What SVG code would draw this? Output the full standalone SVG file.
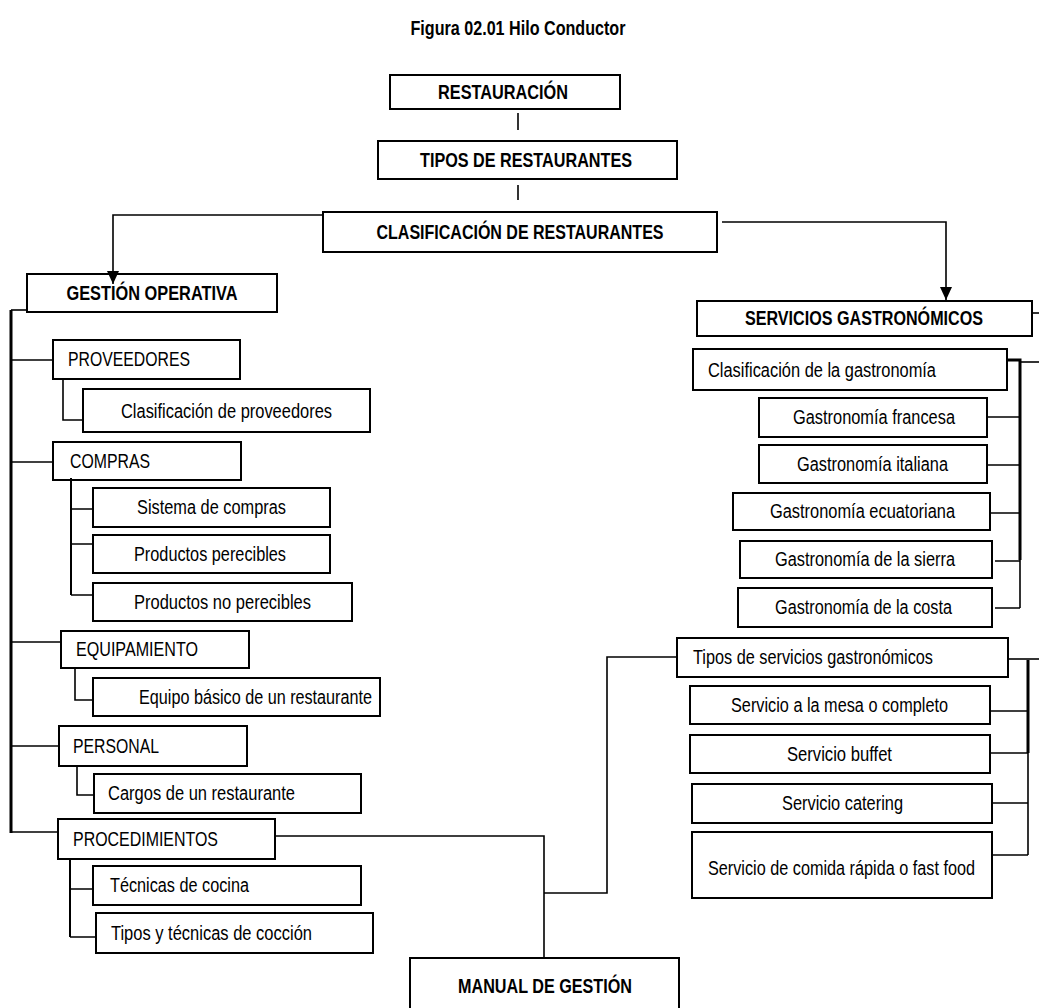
<svg xmlns="http://www.w3.org/2000/svg" width="1039" height="1008" viewBox="0 0 1039 1008">
<style>
text{font-family:"Liberation Sans",Arial,sans-serif;font-size:19.5px;fill:#000}
.b{font-weight:bold}
.c{text-anchor:middle}
rect{fill:#fff;stroke:#000;stroke-width:2}
.ln{fill:none;stroke:#000;stroke-width:1.6}
.tk{fill:none;stroke:#000;stroke-width:3}
</style>
<defs>
<marker id="arr" markerUnits="userSpaceOnUse" markerWidth="12" markerHeight="13" refX="6" refY="13" orient="0">
<path d="M0,0 L12,0 L6,13 Z" fill="#000"/>
</marker>
</defs>
<rect width="1039" height="1008" style="fill:#fff;stroke:none"/>
<text class="b c" x="518" y="35" textLength="215" lengthAdjust="spacingAndGlyphs">Figura 02.01 Hilo Conductor</text>

<g id="n-restauracion"><rect x="390" y="75" width="230" height="34"/><text class="b c" x="503" y="99" textLength="130" lengthAdjust="spacingAndGlyphs">RESTAURACIÓN</text></g>
<g id="n-tipos"><rect x="378" y="141" width="299" height="38"/><text class="b c" x="526" y="167" textLength="212" lengthAdjust="spacingAndGlyphs">TIPOS DE RESTAURANTES</text></g>
<g id="n-clasificacion"><rect x="323" y="212" width="394" height="40"/><text class="b c" x="520" y="239" textLength="287" lengthAdjust="spacingAndGlyphs">CLASIFICACIÓN DE RESTAURANTES</text></g>

<g id="n-gestion"><rect x="27" y="274" width="250" height="38"/><text class="b c" x="152" y="300" textLength="171" lengthAdjust="spacingAndGlyphs">GESTIÓN OPERATIVA</text></g>
<g id="n-proveedores"><rect x="53" y="340" width="187" height="39"/><text x="68" y="366" textLength="122" lengthAdjust="spacingAndGlyphs">PROVEEDORES</text></g>
<g id="n-clasprov"><rect x="83" y="389" width="287" height="43"/><text x="121" y="418" textLength="211" lengthAdjust="spacingAndGlyphs">Clasificación de proveedores</text></g>
<g id="n-compras"><rect x="53" y="442" width="188" height="38"/><text x="70" y="468" textLength="80" lengthAdjust="spacingAndGlyphs">COMPRAS</text></g>
<g id="n-sistema"><rect x="93" y="488" width="237" height="39"/><text x="137" y="514" textLength="149" lengthAdjust="spacingAndGlyphs">Sistema de compras</text></g>
<g id="n-perecibles"><rect x="93" y="535" width="237" height="38"/><text x="134" y="561" textLength="152" lengthAdjust="spacingAndGlyphs">Productos perecibles</text></g>
<g id="n-noperecibles"><rect x="93" y="583" width="259" height="38"/><text x="134" y="609" textLength="177" lengthAdjust="spacingAndGlyphs">Productos no perecibles</text></g>
<g id="n-equipamiento"><rect x="61" y="631" width="188" height="37"/><text x="76" y="656" textLength="122" lengthAdjust="spacingAndGlyphs">EQUIPAMIENTO</text></g>
<g id="n-equipo"><rect x="93" y="678" width="287" height="38"/><text x="139" y="704" textLength="233" lengthAdjust="spacingAndGlyphs">Equipo básico de un restaurante</text></g>
<g id="n-personal"><rect x="59" y="726" width="188" height="40"/><text x="73" y="753" textLength="86" lengthAdjust="spacingAndGlyphs">PERSONAL</text></g>
<g id="n-cargos"><rect x="94" y="774" width="267" height="39"/><text x="108" y="800" textLength="187" lengthAdjust="spacingAndGlyphs">Cargos de un restaurante</text></g>
<g id="n-procedimientos"><rect x="58" y="819" width="217" height="40"/><text x="73" y="846" textLength="145" lengthAdjust="spacingAndGlyphs">PROCEDIMIENTOS</text></g>
<g id="n-tecnicas"><rect x="93" y="866" width="268" height="39"/><text x="110" y="892" textLength="139" lengthAdjust="spacingAndGlyphs">Técnicas de cocina</text></g>
<g id="n-coccion"><rect x="96" y="913" width="277" height="40"/><text x="111" y="940" textLength="201" lengthAdjust="spacingAndGlyphs">Tipos y técnicas de cocción</text></g>
<g id="n-manual"><rect x="410" y="958" width="269" height="60"/><text class="b c" x="545" y="993" textLength="174" lengthAdjust="spacingAndGlyphs">MANUAL DE GESTIÓN</text></g>

<g id="n-servicios"><rect x="697" y="301" width="335" height="35"/><text class="b c" x="864" y="325" textLength="238" lengthAdjust="spacingAndGlyphs">SERVICIOS GASTRONÓMICOS</text></g>
<g id="n-clasgastro"><rect x="693" y="349" width="314" height="41"/><text x="708" y="377" textLength="228" lengthAdjust="spacingAndGlyphs">Clasificación de la gastronomía</text></g>
<g id="n-francesa"><rect x="759" y="398" width="228" height="39"/><text x="793" y="424" textLength="162" lengthAdjust="spacingAndGlyphs">Gastronomía francesa</text></g>
<g id="n-italiana"><rect x="759" y="445" width="228" height="38"/><text x="797" y="471" textLength="151" lengthAdjust="spacingAndGlyphs">Gastronomía italiana</text></g>
<g id="n-ecuatoriana"><rect x="733" y="493" width="257" height="37"/><text x="770" y="518" textLength="185" lengthAdjust="spacingAndGlyphs">Gastronomía ecuatoriana</text></g>
<g id="n-sierra"><rect x="740" y="541" width="252" height="37"/><text x="775" y="566" textLength="180" lengthAdjust="spacingAndGlyphs">Gastronomía de la sierra</text></g>
<g id="n-costa"><rect x="738" y="588" width="254" height="39"/><text x="775" y="614" textLength="177" lengthAdjust="spacingAndGlyphs">Gastronomía de la costa</text></g>
<g id="n-tiposserv"><rect x="677" y="638" width="331" height="39"/><text x="693" y="664" textLength="240" lengthAdjust="spacingAndGlyphs">Tipos de servicios gastronómicos</text></g>
<g id="n-mesa"><rect x="690" y="686" width="300" height="38"/><text x="731" y="712" textLength="217" lengthAdjust="spacingAndGlyphs">Servicio a la mesa o completo</text></g>
<g id="n-buffet"><rect x="690" y="735" width="300" height="38"/><text x="787" y="761" textLength="105" lengthAdjust="spacingAndGlyphs">Servicio buffet</text></g>
<g id="n-catering"><rect x="692" y="784" width="300" height="39"/><text x="782" y="810" textLength="121" lengthAdjust="spacingAndGlyphs">Servicio catering</text></g>
<g id="n-fastfood"><rect x="692" y="832" width="300" height="66"/><text x="708" y="875" textLength="267" lengthAdjust="spacingAndGlyphs">Servicio de comida rápida o fast food</text></g>

<g id="connectors">
<path class="ln" d="M518,113 V130"/>
<path class="ln" d="M518,185 V200"/>
<path class="ln" d="M323,215 H113 V284" marker-end="url(#arr)"/>
<path class="ln" d="M722,222 H946 V300" marker-end="url(#arr)"/>
<path class="tk" d="M11,310 V833"/>
<path class="ln" d="M11,310 H27"/>
<path class="ln" d="M11,360 H53"/>
<path class="ln" d="M11,462 H53"/>
<path class="ln" d="M11,642 H61"/>
<path class="ln" d="M11,746 H59"/>
<path class="ln" d="M11,832 H58"/>
<path class="ln" d="M63,379 V420 H83"/>
<path class="tk" d="M71,478 V595" style="stroke-width:2"/>
<path class="ln" d="M71,509 H93 M71,544 H93 M71,595 H93"/>
<path class="ln" d="M75,668 V700 H93"/>
<path class="ln" d="M77,766 V795 H94"/>
<path class="tk" d="M70,859 V937" style="stroke-width:2"/>
<path class="ln" d="M70,889 H93 M70,937 H96"/>
<path class="ln" d="M276,836 H544 V957"/>
<path class="ln" d="M676,657 H607 V893 H544"/>
<path class="ln" d="M1033,313 H1039"/>
<path class="tk" d="M1008,360 H1020 V560"/>
<path class="ln" d="M1020,362 H1039"/>
<path class="ln" d="M1020,560 V608"/>
<path class="ln" d="M988,417 H1020 M988,465 H1020 M991,513 H1020 M995,561 H1020 M995,608 H1020"/>
<path class="ln" d="M1009,659 H1039"/>
<path class="tk" d="M1028,660 V753"/>
<path class="ln" d="M1028,753 V855"/>
<path class="ln" d="M991,711 H1028 M991,753 H1028 M993,803 H1028 M993,855 H1028"/>
</g>
</svg>
